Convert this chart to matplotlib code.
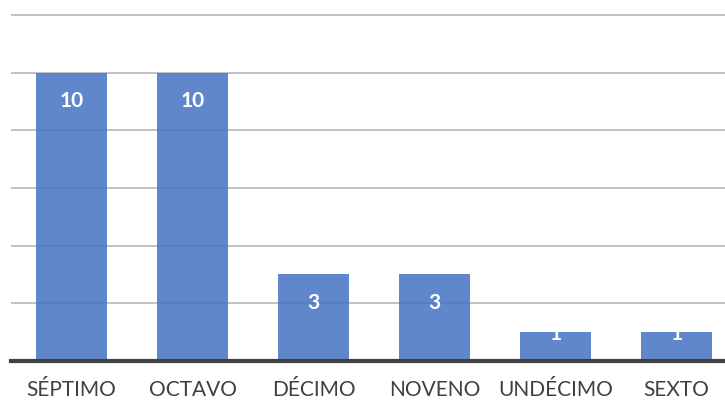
import matplotlib
matplotlib.use("Agg")
import matplotlib.pyplot as plt

categorias = ["SÉPTIMO", "OCTAVO", "DÉCIMO", "NOVENO", "UNDÉCIMO", "SEXTO"]
valores = [10, 10, 3, 3, 1, 1]
marcas_y = [0, 2, 4, 6, 8, 10, 12]

plt.rcParams['font.family'] = ['Lato', 'DejaVu Sans']

fig = plt.figure(figsize=(7.25, 4.03), dpi=100)
# the right edge of the plot area is cut off in the original
ax = fig.add_axes([11 / 725, 1 - 361 / 403, 726 / 725, 348.9 / 403])

x = list(range(len(categorias)))
bars = ax.bar(x, valores, width=0.587, color="#4472c4", alpha=0.85, zorder=2)

for g in marcas_y[1:]:
    ax.axhline(g, color="#bdbdbd", lw=1.3, zorder=1)

for xi, v in zip(x, valores):
    yl = v - 1 if v >= 2 else v - 0.06
    ax.text(xi, yl, str(v), ha="center", va="center", color="white",
            fontsize=15, fontweight="bold", zorder=4)

ax.set_xlim(-0.5, 5.5)
ax.set_ylim(0, 12.1)
ax.set_xticks(x)
ax.set_xticklabels(categorias, fontsize=15, color="#404040")
ax.tick_params(axis="x", length=0, pad=14)
ax.set_yticks([])
for s in ["top", "right", "left"]:
    ax.spines[s].set_visible(False)
ax.spines["bottom"].set_color("#404040")
ax.spines["bottom"].set_linewidth(3)
ax.spines["bottom"].set_zorder(5)

fig.savefig("out.png", dpi=100)
